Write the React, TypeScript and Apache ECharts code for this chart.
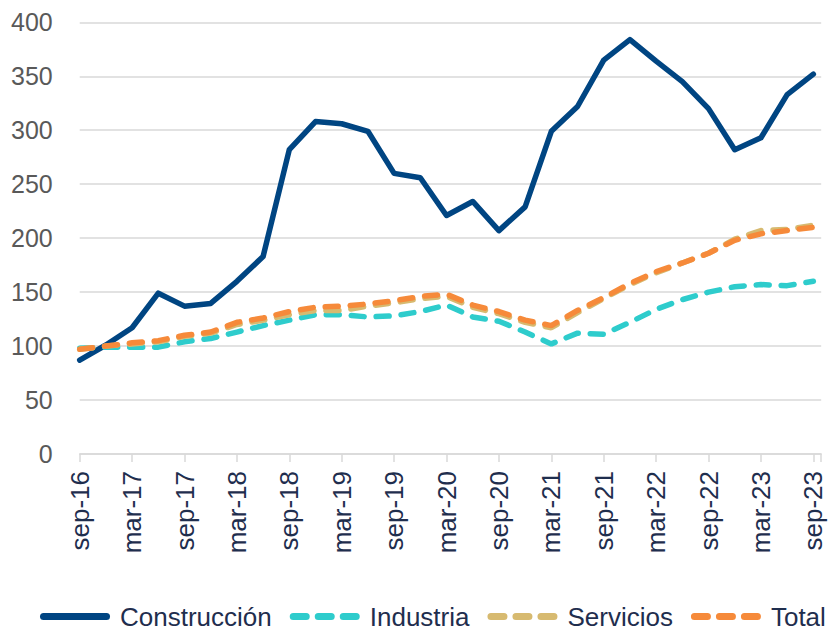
import React, { useEffect, useRef } from "react";
import * as echarts from "echarts";

const quarters = [
  "sep-16", "dic-16", "mar-17", "jun-17", "sep-17", "dic-17", "mar-18", "jun-18",
  "sep-18", "dic-18", "mar-19", "jun-19", "sep-19", "dic-19", "mar-20", "jun-20",
  "sep-20", "dic-20", "mar-21", "jun-21", "sep-21", "dic-21", "mar-22", "jun-22",
  "sep-22", "dic-22", "mar-23", "jun-23", "sep-23",
];

const construccion = [87, 101, 117, 149, 137, 139.5, 160, 183, 282, 308, 306, 299, 260, 256, 221, 234, 207, 229, 299, 322, 365, 384, 364, 345, 320, 282, 293, 333, 352];
const industria = [98, 99, 99, 99, 104, 107, 113, 119, 124, 129, 129, 127, 128, 132, 138, 127, 123, 113, 102, 112, 111, 122, 134, 143, 150, 155, 157, 156, 160];
const servicios = [97, 100, 102, 104, 109, 112, 120, 124, 129, 133, 133, 137, 140, 144, 146, 136, 130, 122, 117, 131, 144, 157, 168, 177, 186, 199, 207, 208, 212];
const total = [97, 100, 103, 105, 110, 113, 122, 126, 132, 136, 137, 139, 142, 146, 148, 138, 132, 124, 119, 133, 145, 158, 169, 177, 186, 198, 204, 207, 210];

const yTicks = { min: 0, max: 400, interval: 50 };

const FONT = "'Liberation Sans', Arial, sans-serif";
const TEXT_NAVY = "#1f2e4e";

const SOLID_ICON =
  "path://M3.5,0H66.5A3.5,3.5,0,0,1,66.5,7H3.5A3.5,3.5,0,0,1,3.5,0Z";
const DASH_ICON =
  "path://M3.5,0H16.5A3.5,3.5,0,0,1,16.5,7H3.5A3.5,3.5,0,0,1,3.5,0Z" +
  "M28.5,0H41.5A3.5,3.5,0,0,1,41.5,7H28.5A3.5,3.5,0,0,1,28.5,0Z" +
  "M53.5,0H66.5A3.5,3.5,0,0,1,66.5,7H53.5A3.5,3.5,0,0,1,53.5,0Z";

function pairs(arr: number[]) {
  return arr.map((v, i) => [i, v]);
}

export default function App() {
  const ref = useRef<HTMLDivElement>(null);
  useEffect(() => {
    if (!ref.current) return;
    const chart = echarts.init(ref.current, null, { renderer: "svg" });
    const dashed = (name: string, color: string, data: number[]) => ({
      name,
      type: "line",
      data: pairs(data),
      symbol: "none",
      smooth: false,
      lineStyle: { color, width: 5.5, type: [13, 12], cap: "round" },
      itemStyle: { color },
    });
    chart.setOption({
      animation: false,
      backgroundColor: "#ffffff",
      grid: { left: 79.7, top: 22.3, width: 741.5, height: 431.7 },
      xAxis: {
        type: "value",
        min: 0,
        max: 28.3,
        interval: 2,
        axisLine: { show: true, lineStyle: { color: "#d9d9d9", width: 1.5 } },
        axisTick: { show: true, length: 8, lineStyle: { color: "#d9d9d9", width: 1.5 } },
        splitLine: { show: false },
        axisLabel: {
          rotate: 90,
          margin: 17,
          fontSize: 26,
          fontFamily: FONT,
          color: TEXT_NAVY,
          formatter: (v: number) => (Number.isInteger(v) && quarters[v] ? quarters[v] : ""),
        },
      },
      yAxis: {
        type: "value",
        min: yTicks.min,
        max: yTicks.max,
        interval: yTicks.interval,
        axisLine: { show: false },
        axisTick: { show: false },
        splitLine: { lineStyle: { color: "#d9d9d9", width: 1.5 } },
        axisLabel: { fontSize: 25, fontFamily: FONT, color: "#595959", margin: 27 },
      },
      legend: {
        left: 40,
        right: 0,
        top: 603.5,
        padding: 0,
        itemWidth: 70,
        itemHeight: 7,
        itemGap: 18,
        textStyle: {
          fontSize: 26,
          lineHeight: 24,
          fontFamily: FONT,
          color: TEXT_NAVY,
          padding: [0, 0, 0, 5],
        },
        data: [
          { name: "Construcción", icon: SOLID_ICON },
          { name: "Industria", icon: DASH_ICON },
          { name: "Servicios", icon: DASH_ICON },
          { name: "Total", icon: DASH_ICON },
        ],
      },
      series: [
        {
          name: "Construcción",
          type: "line",
          data: pairs(construccion),
          symbol: "none",
          lineStyle: { color: "#004582", width: 5.5, cap: "round", join: "round" },
          itemStyle: { color: "#004582" },
        },
        dashed("Industria", "#2ecccc", industria),
        dashed("Servicios", "#d7ba70", servicios),
        dashed("Total", "#f68a3a", total),
      ],
    });
    return () => chart.dispose();
  }, []);
  return (
    <div
      ref={ref}
      style={{ position: "fixed", left: 0, top: 0, width: 833, height: 630, background: "#fff" }}
    />
  );
}
